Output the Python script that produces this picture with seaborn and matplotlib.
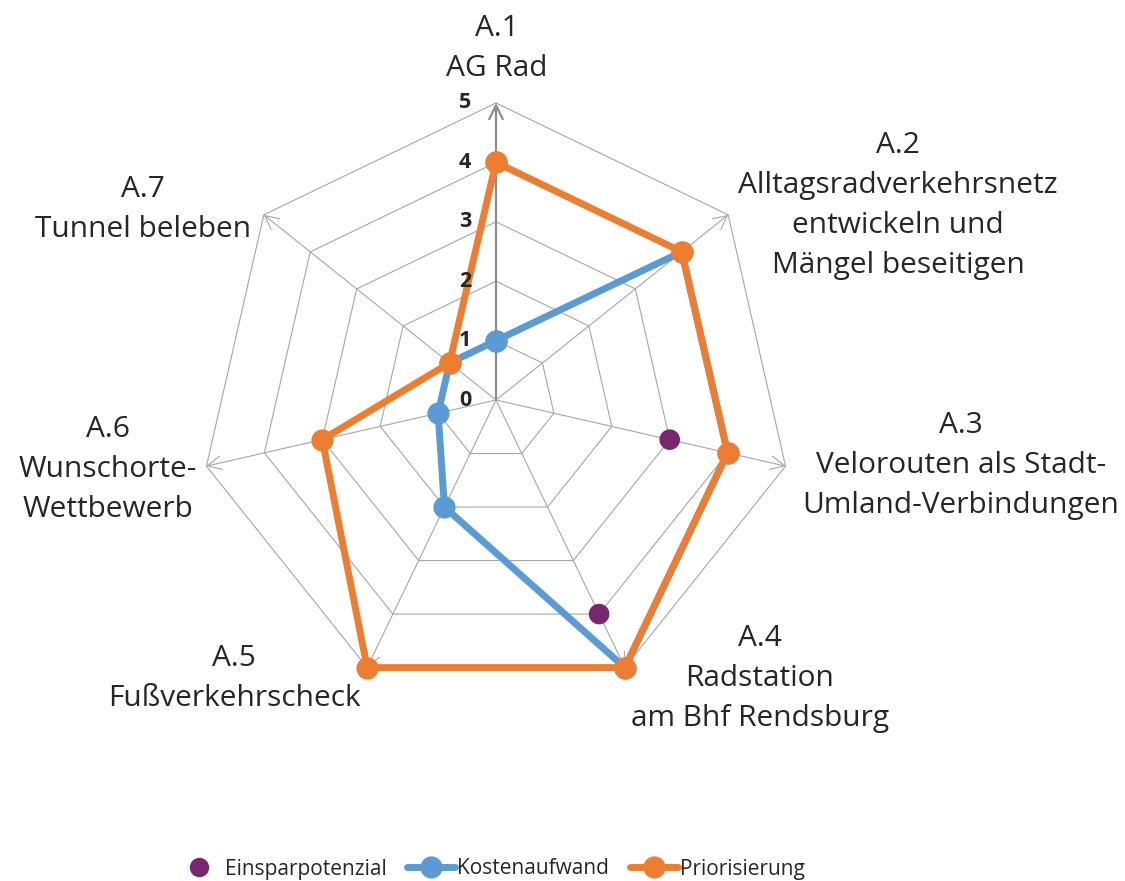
import numpy as np
import pandas as pd
import matplotlib
matplotlib.use("Agg")
import matplotlib.pyplot as plt
import matplotlib.transforms as mtransforms
from matplotlib.lines import Line2D
import seaborn as sns

# --- data -------------------------------------------------------------
codes = ["A.1", "A.2", "A.3", "A.4", "A.5", "A.6", "A.7"]
titles = [
    ["AG Rad"],
    ["Alltagsradverkehrsnetz", "entwickeln und", "Mängel beseitigen"],
    ["Velorouten als Stadt-", "Umland-Verbindungen"],
    ["Radstation", "am Bhf Rendsburg"],
    ["Fußverkehrscheck"],
    ["Wunschorte-", "Wettbewerb"],
    ["Tunnel beleben"],
]
einsparpotenzial = [np.nan, np.nan, 3, 4, np.nan, np.nan, np.nan]
kostenaufwand = [1, 4, 4, 5, 2, 1, 1]
priorisierung = [4, 4, 4, 5, 5, 3, 1]
scale_ticks = [0, 1, 2, 3, 4, 5]
series_names = ["Einsparpotenzial", "Kostenaufwand", "Priorisierung"]

# --- styling ----------------------------------------------------------
sns.set_theme(style="white")
plt.rcParams["font.family"] = ["Open Sans", "DejaVu Sans"]

C_PURPLE = "#78276F"
C_BLUE = "#5B9BD5"
C_ORANGE = "#ED7D31"
C_GRID = "#A6A6A6"
C_TEXT = "#262626"

W, H = 1125, 881
fig = plt.figure(figsize=(W / 100, H / 100), dpi=100)

# polar axes centred on the chart, radius of the outer ring = 297 px
cx, cy, R = 496, 400, 297
ax = fig.add_axes([(cx - R) / W, (H - cy - R) / H, 2 * R / W, 2 * R / H],
                  projection="polar")
ax.set_theta_offset(np.pi / 2)
ax.set_theta_direction(-1)
ax.set_ylim(0, max(scale_ticks))
ax.set_axis_off()

n = len(codes)
theta = np.arange(n) * 2 * np.pi / n
theta_closed = np.append(theta, 2 * np.pi)

# polygon grid rings
for k in scale_ticks[1:]:
    ax.plot(theta_closed, [k] * (n + 1), color=C_GRID, lw=0.8,
            clip_on=False, zorder=1)

# spokes with open arrow heads
for i, t in enumerate(theta):
    first = i == 0
    ax.annotate("", xy=(t, max(scale_ticks)), xytext=(t, 0),
                arrowprops=dict(arrowstyle="->,head_length=0.7,head_width=0.35",
                                color="#8C8C8C" if first else C_GRID,
                                lw=1.6 if first else 0.8,
                                shrinkA=0, shrinkB=0, mutation_scale=14),
                annotation_clip=False, zorder=1)

# scale labels beside the first spoke, drawn above the series
offset = mtransforms.ScaledTranslation(-31 / 100, 0, fig.dpi_scale_trans)
for k in scale_ticks:
    ax.text(0, k, str(k), transform=ax.transData + offset, ha="center",
            va="center", fontsize=15.5, fontweight="bold", color=C_TEXT,
            zorder=10)


def closed(vals):
    return np.append(vals, vals[0])


# series
sns.scatterplot(x=theta, y=einsparpotenzial, ax=ax, color=C_PURPLE, s=220,
                edgecolor="none", clip_on=False, zorder=3, legend=False)
sns.lineplot(x=theta_closed, y=closed(kostenaufwand), ax=ax, color=C_BLUE,
             lw=5, marker="o", markersize=16, markeredgewidth=0,
             sort=False, estimator=None, clip_on=False, zorder=4,
             solid_joinstyle="round", legend=False)
sns.lineplot(x=theta_closed, y=closed(priorisierung), ax=ax, color=C_ORANGE,
             lw=5, marker="o", markersize=16, markeredgewidth=0,
             sort=False, estimator=None, clip_on=False, zorder=5,
             solid_joinstyle="round", legend=False)

# category labels: (centre x, first baseline y) in pixels
label_pos = [(497, 36), (898, 153), (961, 433), (760, 646),
             (234, 666), (108, 437), (143, 197)]
line_step = 40
for code, lines, (lx, ly) in zip(codes, titles, label_pos):
    for j, txt in enumerate([code] + lines):
        fig.text(lx / W, 1 - (ly + j * line_step) / H, txt, ha="center",
                 va="baseline", fontsize=21.5, color=C_TEXT)

# legend
handles = [
    Line2D([], [], ls="none", marker="o", color=C_PURPLE, markersize=14,
           markeredgewidth=0),
    Line2D([], [], color=C_BLUE, lw=5, marker="o", markersize=16,
           markeredgewidth=0, solid_capstyle="round"),
    Line2D([], [], color=C_ORANGE, lw=5, marker="o", markersize=16,
           markeredgewidth=0, solid_capstyle="round"),
]
fig.legend(handles, series_names, loc="center",
           bbox_to_anchor=(490 / W, 12 / H), ncol=3, frameon=False,
           fontsize=15, handlelength=2.3, handletextpad=0.1,
           columnspacing=1.0, labelcolor=C_TEXT)

fig.savefig("out.png", dpi=100, facecolor="white")
